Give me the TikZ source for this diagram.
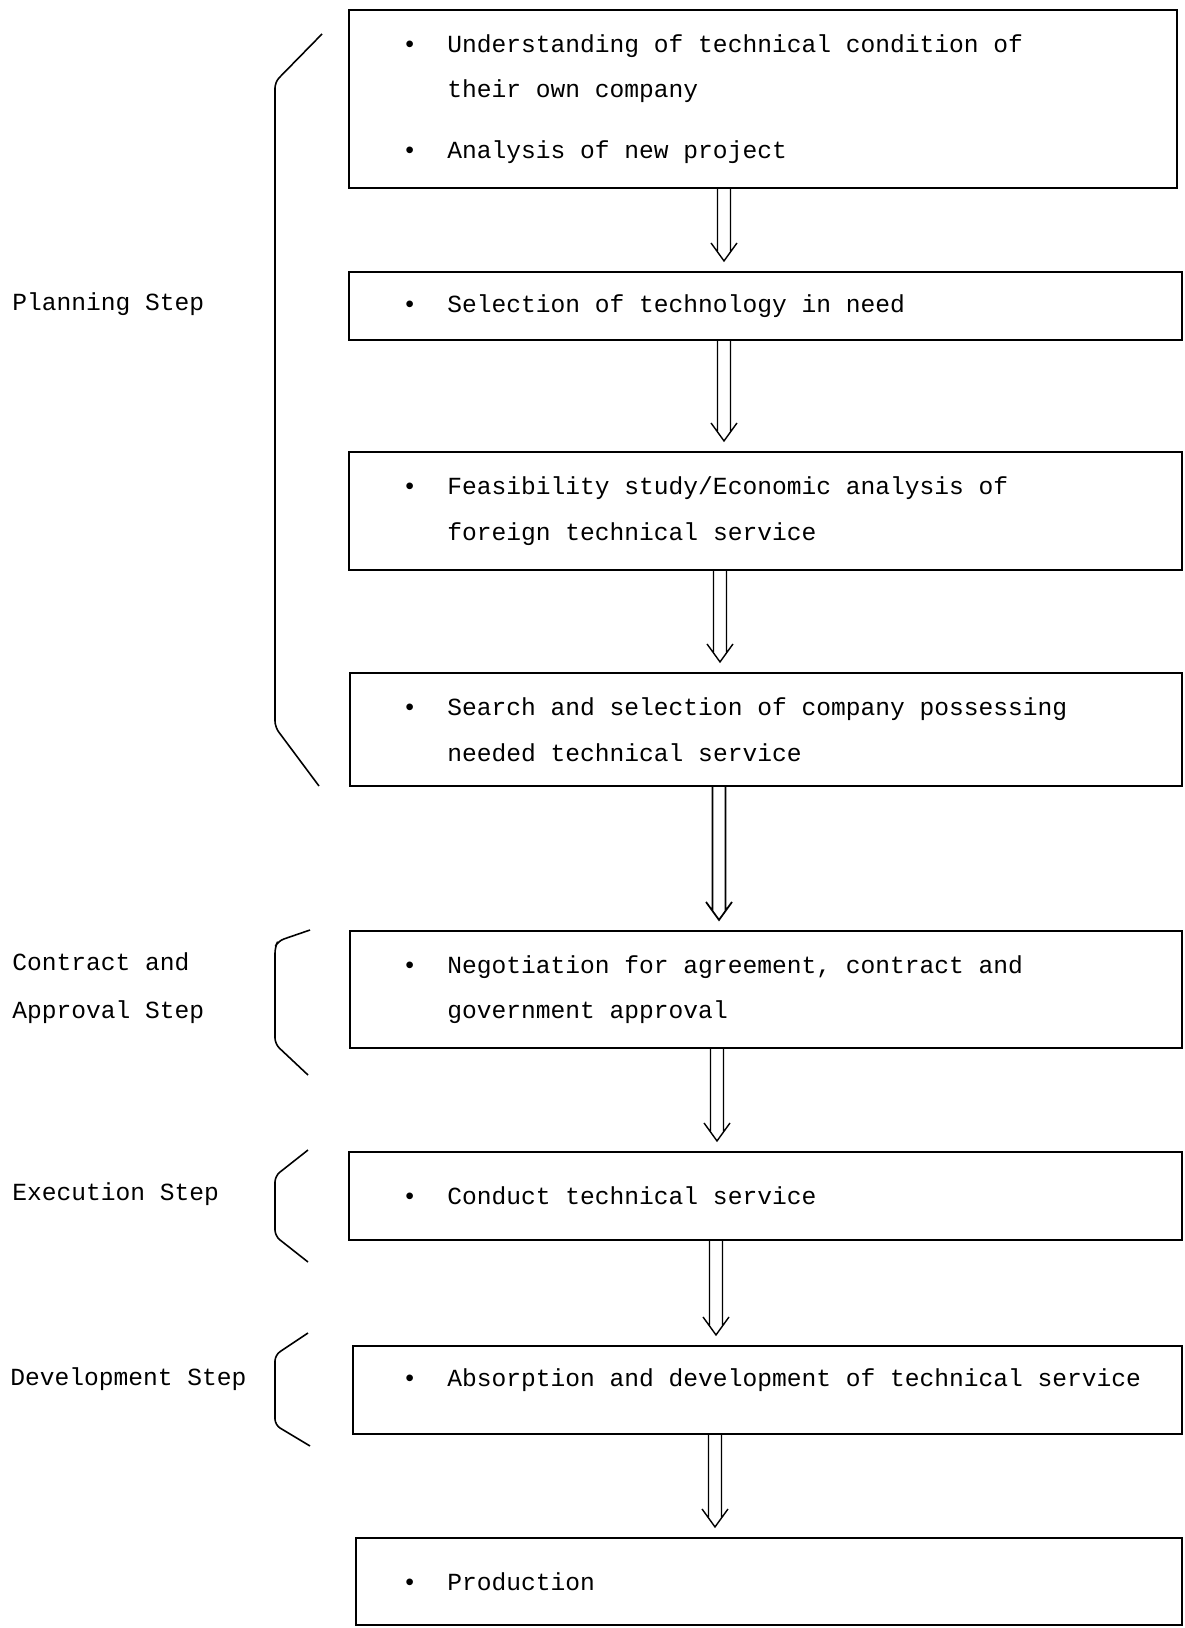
\documentclass[tikz,border=0pt]{standalone}
\usepackage{fontspec}
\setmonofont{Liberation Mono}
\usetikzlibrary{calc,positioning,fit}
\newcommand{\itembul}{\makebox[0.9cm][l]{\textbullet}}
\newcommand{\itemgap}{\hspace*{0.9cm}}
\tikzset{
  box/.style={draw, line width=1.2pt, inner sep=0pt},
  item/.style={anchor=west, inner sep=0pt, align=left, font=\ttfamily\fontsize{14pt}{26pt}\selectfont},
  steplabel/.style={anchor=west, inner sep=0pt, align=left, font=\ttfamily\fontsize{14pt}{27pt}\selectfont},
  brace/.style={line width=0.9pt, rounded corners=0.12cm},
  flow/.style={line width=0.8pt, to path={
    ($(\tikztostart)+(-6.5,0)$) -- ($(\tikztotarget)+(-6.5,-19)$)
    ($(\tikztostart)+(6.5,0)$) -- ($(\tikztotarget)+(6.5,-19)$)
    ($(\tikztotarget)+(-13,-28)$) -- ($(\tikztotarget)+(0,-10)$) -- ($(\tikztotarget)+(13,-28)$)
  }}
}
\begin{document}
\begin{tikzpicture}[x=0.02cm, y=-0.02cm]
  \useasboundingbox (0,0) rectangle (1184,1628);

  % boxes
  \node[box, fit={(349,10) (1177,188)}]     (b1) {};
  \node[box, fit={(349,272) (1182,340)}]    (b2) {};
  \node[box, fit={(349,452) (1182,570)}]    (b3) {};
  \node[box, fit={(350,673) (1182,786)}]    (b4) {};
  \node[box, fit={(350,931) (1182,1048)}]   (b5) {};
  \node[box, fit={(349,1152) (1182,1240)}]  (b6) {};
  \node[box, fit={(353,1346) (1182,1434)}]  (b7) {};
  \node[box, fit={(356,1538) (1182,1625)}]  (b8) {};

  % texts in the boxes
  \coordinate (tx) at (402,0);
  \node[item] (t1) at (b1.west -| tx) {\itembul Understanding of technical condition of\\
    \itemgap their own company\\[0.3cm]
    \itembul Analysis of new project};
  \node[item] (t2) at (b2.west -| tx) {\itembul Selection of technology in need};
  \node[item] (t3) at (b3.west -| tx) {\itembul Feasibility study/Economic analysis of\\
    \itemgap foreign technical service};
  \node[item] (t4) at (b4.west -| tx) {\itembul Search and selection of company possessing\\
    \itemgap needed technical service};
  \node[item] (t5) at (b5.west -| tx) {\itembul Negotiation for agreement, contract and\\
    \itemgap government approval};
  \node[item] (t6) at (b6.west -| tx) {\itembul Conduct technical service};
  \node[item] (t7) at ([yshift=0.2cm]b7.west -| tx) {\itembul Absorption and development of technical service};
  \node[item] (t8) at (b8.west -| tx) {\itembul Production};

  % arrows
  \coordinate (c1) at (724,0);
  \coordinate (c3) at (720,0);
  \coordinate (c4) at (719,0);
  \coordinate (c5) at (717,0);
  \coordinate (c6) at (716,0);
  \coordinate (c7) at (715,0);
  \draw[flow] (b1.south -| c1) to (b2.north -| c1);
  \draw[flow] (b2.south -| c1) to (b3.north -| c1);
  \draw[flow] (b3.south -| c3) to (b4.north -| c3);
  \draw[flow, line width=1pt] (b4.south -| c4) to (b5.north -| c4);
  \draw[flow] (b5.south -| c5) to (b6.north -| c5);
  \draw[flow] (b6.south -| c6) to (b7.north -| c6);
  \draw[flow] (b7.south -| c7) to (b8.north -| c7);

  % step labels
  \node[steplabel] (s1) at (12,304) {Planning Step};
  \node[steplabel] (s2) at (12,988) {Contract and\\Approval Step};
  \node[steplabel] (s3) at (12,1194) {Execution Step};
  \node[steplabel] (s4) at (10,1379) {Development Step};

  % braces
  \draw[brace] (322,34) -- (275,82) -- (275,727) -- (319,786);
  \draw[brace] (310,930) -- (278,941) -- (275,947) -- (275,1044) -- (308,1075);
  \draw[brace] (308,1150) -- (275,1176) -- (275,1236) -- (308,1262);
  \draw[brace] (308,1333) -- (275,1355) -- (275,1425) -- (310,1446);
\end{tikzpicture}
\end{document}
